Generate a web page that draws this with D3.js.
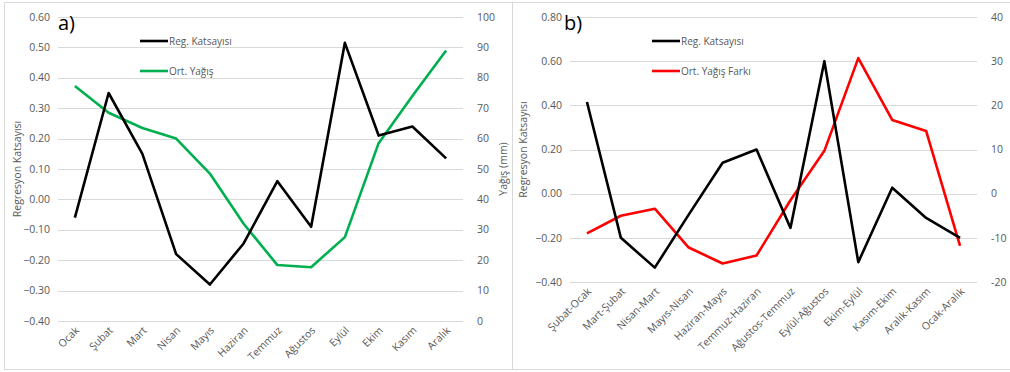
<!DOCTYPE html>
<meta charset="utf-8">
<style>
  body { margin: 0; background: #fff; }
  svg { display: block; font-family: "Open Sans", sans-serif; }
  .tick-label { fill: #595959; font-size: 10.5px; }
  .axis-title { fill: #595959; font-size: 10.5px; }
  .legend-text { fill: #595959; font-size: 10px; }
  .grid line { stroke: #d9d9d9; stroke-width: 1; }
</style>
<svg width="1010" height="372"></svg>

<script src="https://cdn.jsdelivr.net/npm/d3@7"></script>
<script>

/*
 * Panel a) monthly values.
 */
var monthsA = ["Ocak", "Şubat", "Mart", "Nisan", "Mayıs", "Haziran", "Temmuz", "Ağustos", "Eylül", "Ekim", "Kasım", "Aralık"];
var regA = [-0.06, 0.35, 0.15, -0.18, -0.28, -0.145, 0.06, -0.09, 0.515, 0.21, 0.24, 0.135];
var rainA = [77.3, 68.5, 63.5, 60, 48.5, 32, 18.4, 17.7, 27.6, 58.5, 74, 89];
var leftTicksA = [-0.4, -0.3, -0.2, -0.1, 0, 0.1, 0.2, 0.3, 0.4, 0.5, 0.6];
var rightTicksA = [0, 10, 20, 30, 40, 50, 60, 70, 80, 90, 100];

/*
 * Panel b) month-to-month differences.
 */
var pairsB = ["Şubat-Ocak", "Mart-Şubat", "Nisan-Mart", "Mayıs-Nisan", "Haziran-Mayıs", "Temmuz-Haziran", "Ağustos-Temmuz", "Eylül-Ağustos", "Ekim-Eylül", "Kasım-Ekim", "Aralık-Kasım", "Ocak-Aralık"];
var regB = [0.415, -0.20, -0.335, -0.095, 0.14, 0.20, -0.155, 0.60, -0.31, 0.027, -0.11, -0.20];
var rainDiffB = [-9.0, -5.0, -3.4, -12.2, -15.8, -14.0, -1.5, 9.7, 30.7, 16.7, 14.2, -11.8];
var leftTicksB = [-0.4, -0.2, 0, 0.2, 0.4, 0.6, 0.8];
var rightTicksB = [-20, -10, 0, 10, 20, 30, 40];

var svg = d3.select("svg");

svg.append("rect").attr("width", 1010).attr("height", 372).attr("fill", "#fff");

/*
 * Panel frames.
 */
svg.append("rect")
    .attr("x", 4.5).attr("y", 2.5).attr("width", 508).attr("height", 367)
    .attr("fill", "none").attr("stroke", "#d9d9d9");
svg.append("rect")
    .attr("x", 512.5).attr("y", 2.5).attr("width", 510).attr("height", 367)
    .attr("fill", "none").attr("stroke", "#d9d9d9");

drawPanel({
  letter: "a)",
  cats: monthsA,
  left: regA,
  right: rainA,
  leftTicks: leftTicksA,
  rightTicks: rightTicksA,
  leftDomain: [-0.4, 0.6],
  rightDomain: [0, 100],
  x0: 58, x1: 463, yTop: 17, yBottom: 321,
  rightColor: "#00b050",
  rightName: "Ort. Yağış",
  leftTitleX: 17,
  rightTitle: "Yağış (mm)",
  rightTitleX: 503
});

drawPanel({
  letter: "b)",
  cats: pairsB,
  left: regB,
  right: rainDiffB,
  leftTicks: leftTicksB,
  rightTicks: rightTicksB,
  leftDomain: [-0.4, 0.8],
  rightDomain: [-20, 40],
  x0: 570, x1: 977, yTop: 17, yBottom: 282,
  rightColor: "#ff0000",
  rightName: "Ort. Yağış Farkı",
  leftTitleX: 523,
  rightTitle: null
});

function drawPanel(p) {
  var g = svg.append("g");

  var x = d3.scaleBand().domain(p.cats).range([p.x0, p.x1]);
  var yL = d3.scaleLinear().domain(p.leftDomain).range([p.yBottom, p.yTop]);
  var yR = d3.scaleLinear().domain(p.rightDomain).range([p.yBottom, p.yTop]);
  var cx = function(d, i) { return x(p.cats[i]) + x.bandwidth() / 2; };

  /*
   * Horizontal gridlines follow the left axis ticks.
   */
  g.append("g").attr("class", "grid")
    .selectAll("line")
    .data(p.leftTicks)
    .enter().append("line")
      .attr("x1", p.x0).attr("x2", p.x1)
      .attr("y1", function(d) { return Math.round(yL(d)) + 0.5; })
      .attr("y2", function(d) { return Math.round(yL(d)) + 0.5; });

  g.selectAll(".ltick")
    .data(p.leftTicks)
    .enter().append("text")
      .attr("class", "tick-label")
      .attr("x", p.x0 - 8)
      .attr("y", function(d) { return yL(d); })
      .attr("dy", "0.35em")
      .attr("text-anchor", "end")
      .text(function(d) { return d3.format(".2f")(d); });

  g.selectAll(".rtick")
    .data(p.rightTicks)
    .enter().append("text")
      .attr("class", "tick-label")
      .attr("x", p.x1 + 14)
      .attr("y", function(d) { return yR(d); })
      .attr("dy", "0.35em")
      .text(function(d) { return d; });

  /*
   * Rotated category labels.
   */
  g.selectAll(".xlab")
    .data(p.cats)
    .enter().append("text")
      .attr("class", "tick-label")
      .attr("text-anchor", "end")
      .attr("transform", function(d) {
        return "translate(" + (x(d) + x.bandwidth() / 2 + 5) + "," + (p.yBottom + 10) + ")rotate(-45)";
      })
      .text(function(d) { return d; });

  /*
   * Axis titles.
   */
  var yMid = (p.yTop + p.yBottom) / 2;
  g.append("text")
      .attr("class", "axis-title")
      .attr("text-anchor", "middle")
      .attr("transform", "translate(" + p.leftTitleX + "," + yMid + ")rotate(-90)")
      .attr("dy", "0.35em")
      .text("Regresyon Katsayısı");
  if (p.rightTitle) {
    g.append("text")
        .attr("class", "axis-title")
        .attr("text-anchor", "middle")
        .attr("transform", "translate(" + p.rightTitleX + "," + yMid + ")rotate(-90)")
        .attr("dy", "0.35em")
        .text(p.rightTitle);
  }

  /*
   * Series lines.
   */
  g.append("path")
      .datum(p.right)
      .attr("fill", "none")
      .attr("stroke", p.rightColor)
      .attr("stroke-width", 2.6)
      .attr("stroke-linejoin", "round")
      .attr("d", d3.line().x(cx).y(function(d) { return yR(d); }));

  g.append("path")
      .datum(p.left)
      .attr("fill", "none")
      .attr("stroke", "#000")
      .attr("stroke-width", 2.6)
      .attr("stroke-linejoin", "round")
      .attr("d", d3.line().x(cx).y(function(d) { return yL(d); }));

  /*
   * Legend, panel letter.
   */
  var legend = g.selectAll(".legend")
    .data([{name: "Reg. Katsayısı", color: "#000"}, {name: p.rightName, color: p.rightColor}])
    .enter().append("g")
      .attr("transform", function(d, i) { return "translate(" + (p.x0 + 82) + "," + (41 + i * 30) + ")"; });
  legend.append("line")
      .attr("x1", 0).attr("x2", 28)
      .attr("stroke", function(d) { return d.color; })
      .attr("stroke-width", 2.6);
  legend.append("text")
      .attr("class", "legend-text")
      .attr("x", 29)
      .attr("dy", "0.35em")
      .text(function(d) { return d.name; });

  g.append("text")
      .attr("x", p.x0 + (p.letter === "a)" ? 0 : -6))
      .attr("y", 30)
      .attr("font-size", "20px")
      .attr("fill", "#000")
      .text(p.letter);
}
</script>
